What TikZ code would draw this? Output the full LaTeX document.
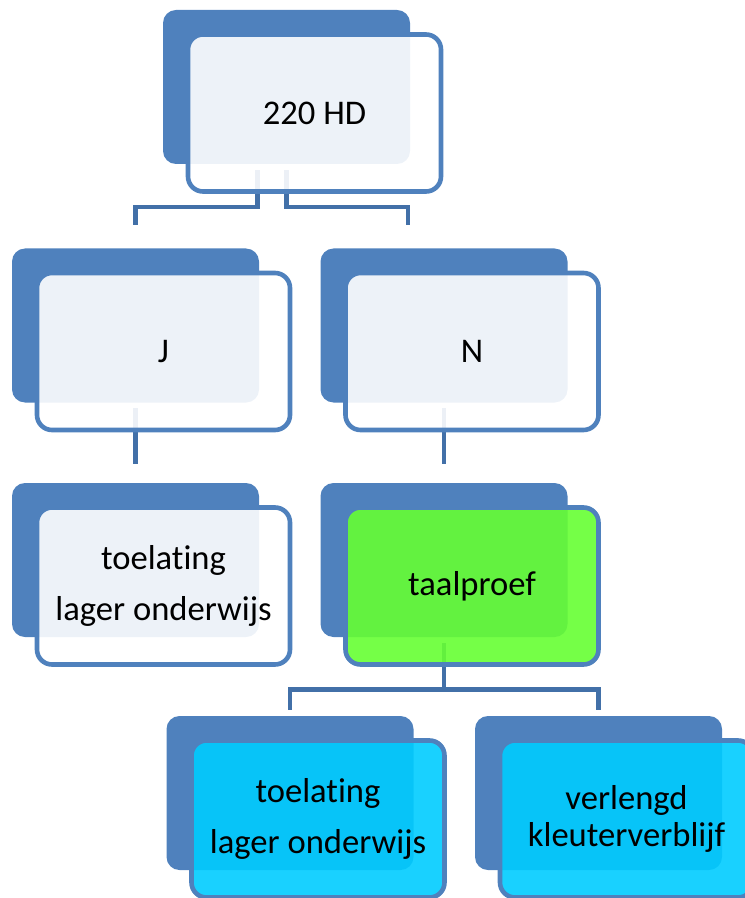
\documentclass[tikz,border=0pt]{standalone}
\usepackage{fontspec}
\setmainfont{Carlito}[Ligatures=NoCommon]
\definecolor{hdblue}{HTML}{4F81BD}
\definecolor{linkblue}{HTML}{4270A8}
\definecolor{taalgreen}{HTML}{66FF33}
\definecolor{kleurcyan}{HTML}{00CCFF}
\begin{document}
\begin{tikzpicture}[x=0.5pt,y=-0.5pt,font=\fontsize{17.3}{25.5}\selectfont,
back/.style={rectangle,rounded corners=6.5pt,fill=hdblue,minimum width=123.5pt,minimum height=77pt,inner sep=0pt},
front/.style={rectangle,rounded corners=7.5pt,draw=hdblue,line width=2.3pt,fill=white,fill opacity=0.9,text opacity=1,minimum width=126.5pt,minimum height=78.5pt,inner sep=0pt,align=center},
link/.style={draw=linkblue,line width=2.3pt}]
\useasboundingbox (0,0) rectangle (744,898);
\node[back](hdB) at (286.5,87){};
\node[back](jB) at (135.5,325.5){};
\node[back](nB) at (444,325.5){};
\node[back](toelB) at (135.5,560){};
\node[back](taalB) at (444,560){};
\node[back](lagerB) at (290,793){};
\node[back](verlB) at (598.5,793){};
\draw[link]([shift={(-29,6)}]hdB.south)--++(0,36.5)-|([shift={(0,-23)}]jB.north);
\draw[link]([shift={(0,6)}]hdB.south)--++(0,36.5)-|([shift={(-36,-23)}]nB.north);
\draw[link]([shift={(0,5)}]jB.south)--([shift={(0,-19)}]toelB.north);
\draw[link]([shift={(0,5)}]nB.south)--([shift={(0,-19)}]taalB.north);
\draw[link]([shift={(0,6)}]taalB.south)--++(0,46)-|([shift={(0,-6)}]lagerB.north);
\draw[link]([shift={(0,6)}]taalB.south)--++(0,46)-|([shift={(0,-6)}]verlB.north);
\node[front](hd) at ([shift={(28,26)}]hdB){220 HD};
\node[front](j) at ([shift={(28,26)}]jB){J};
\node[front](n) at ([shift={(28,26)}]nB){N};
\node[front](toel) at ([shift={(28,26)}]toelB){toelating\\lager onderwijs};
\node[front,fill=taalgreen](taal) at ([shift={(28,26)}]taalB){taalproef};
\node[front,fill=kleurcyan](lager) at ([shift={(28,26)}]lagerB){toelating\\lager onderwijs};
\node[front,fill=kleurcyan,font=\fontsize{17.3}{18.5}\selectfont](verl) at ([shift={(28,26)}]verlB){verlengd\\kleuterverblijf};
\end{tikzpicture}
\end{document}
